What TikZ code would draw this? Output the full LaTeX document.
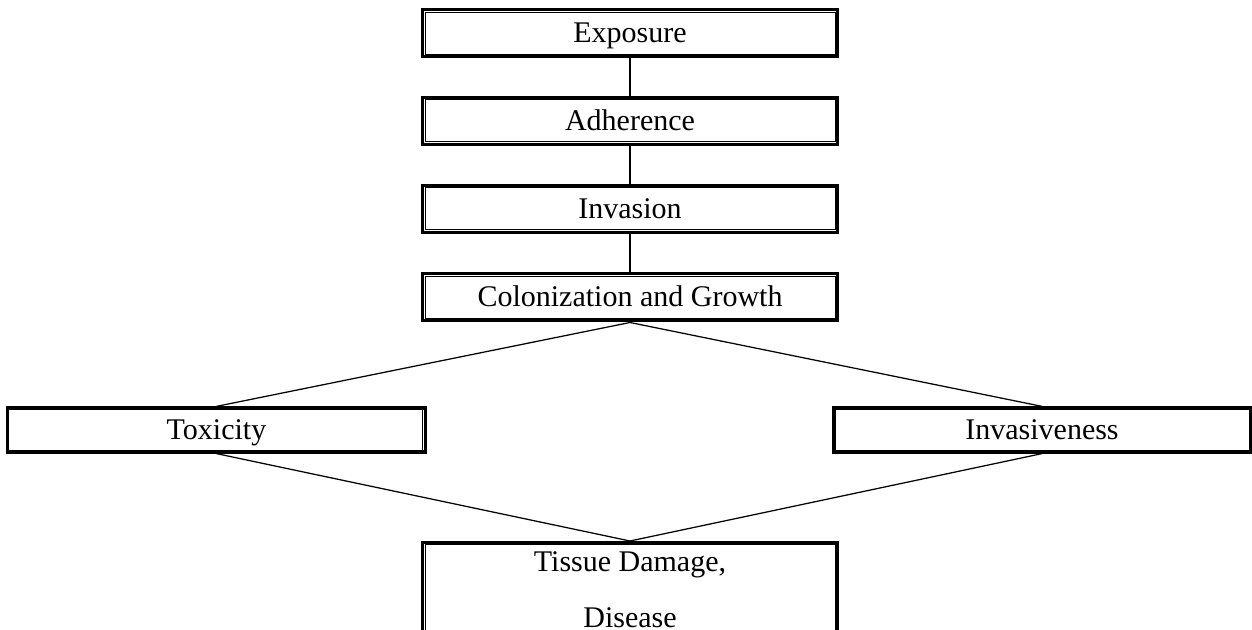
\documentclass[tikz,border=0pt]{standalone}
\usepackage{fontspec}
\setmainfont{Liberation Serif}
\usetikzlibrary{positioning}

\begin{document}
\begin{tikzpicture}[x=0.4pt,y=-0.4pt,
  font=\fontsize{12}{14.4}\selectfont,
  stagebox/.style={draw, line width=1.2pt, minimum width=166pt, minimum height=18.8pt, inner sep=0pt, text height=8.6pt, text depth=1pt},
  sidebox/.style={draw, line width=1.3pt, minimum width=167pt, minimum height=17.6pt, inner sep=0pt, text height=8.6pt, text depth=1pt},
  link/.style={line width=0.5pt}]
\useasboundingbox (0,0) rectangle (1252,630);
\clip (0,0) rectangle (1252,630);
%stages:
\node[stagebox] (exposure) at (630,33.5) {Exposure};
\node[stagebox] (adherence) at (630,121) {Adherence};
\node[stagebox] (invasion) at (630,209) {Invasion};
\node[stagebox] (colonization) at (630,297.5) {Colonization and Growth};
%outcomes:
\node[sidebox] (toxicity) at (216.5,430) {Toxicity};
\node[sidebox] (invasiveness) at (1042,430) {Invasiveness};
%last box, runs off the page:
\node[stagebox, anchor=north, minimum height=48pt] (damage) at (630,541) {};
\node[anchor=base] (damagetop) at (630,572) {Tissue Damage,};
\node[anchor=base] (damagebot) at (630,628) {Disease};
%inner lines:
\foreach \b in {exposure,adherence,invasion,colonization,damage}
  \draw[line width=0.4pt] ([shift={(1.6pt,-1.6pt)}]\b.north west) rectangle ([shift={(-1.6pt,1.6pt)}]\b.south east);
\draw[line width=0.4pt] ([xshift=-1.6pt]toxicity.north east) -- ([xshift=-1.6pt]toxicity.south east);
\draw[line width=0.4pt] ([xshift=1.6pt]invasiveness.north west) -- ([xshift=1.6pt]invasiveness.south west);
%connectors:
\draw[link] (exposure) -- (adherence);
\draw[link] (adherence) -- (invasion);
\draw[link] (invasion) -- (colonization);
\draw[link] (colonization.south) -- (toxicity.north);
\draw[link] (colonization.south) -- (invasiveness.north);
\draw[link] (toxicity.south) -- (damage.north);
\draw[link] (invasiveness.south) -- (damage.north);
\end{tikzpicture}
\end{document}
